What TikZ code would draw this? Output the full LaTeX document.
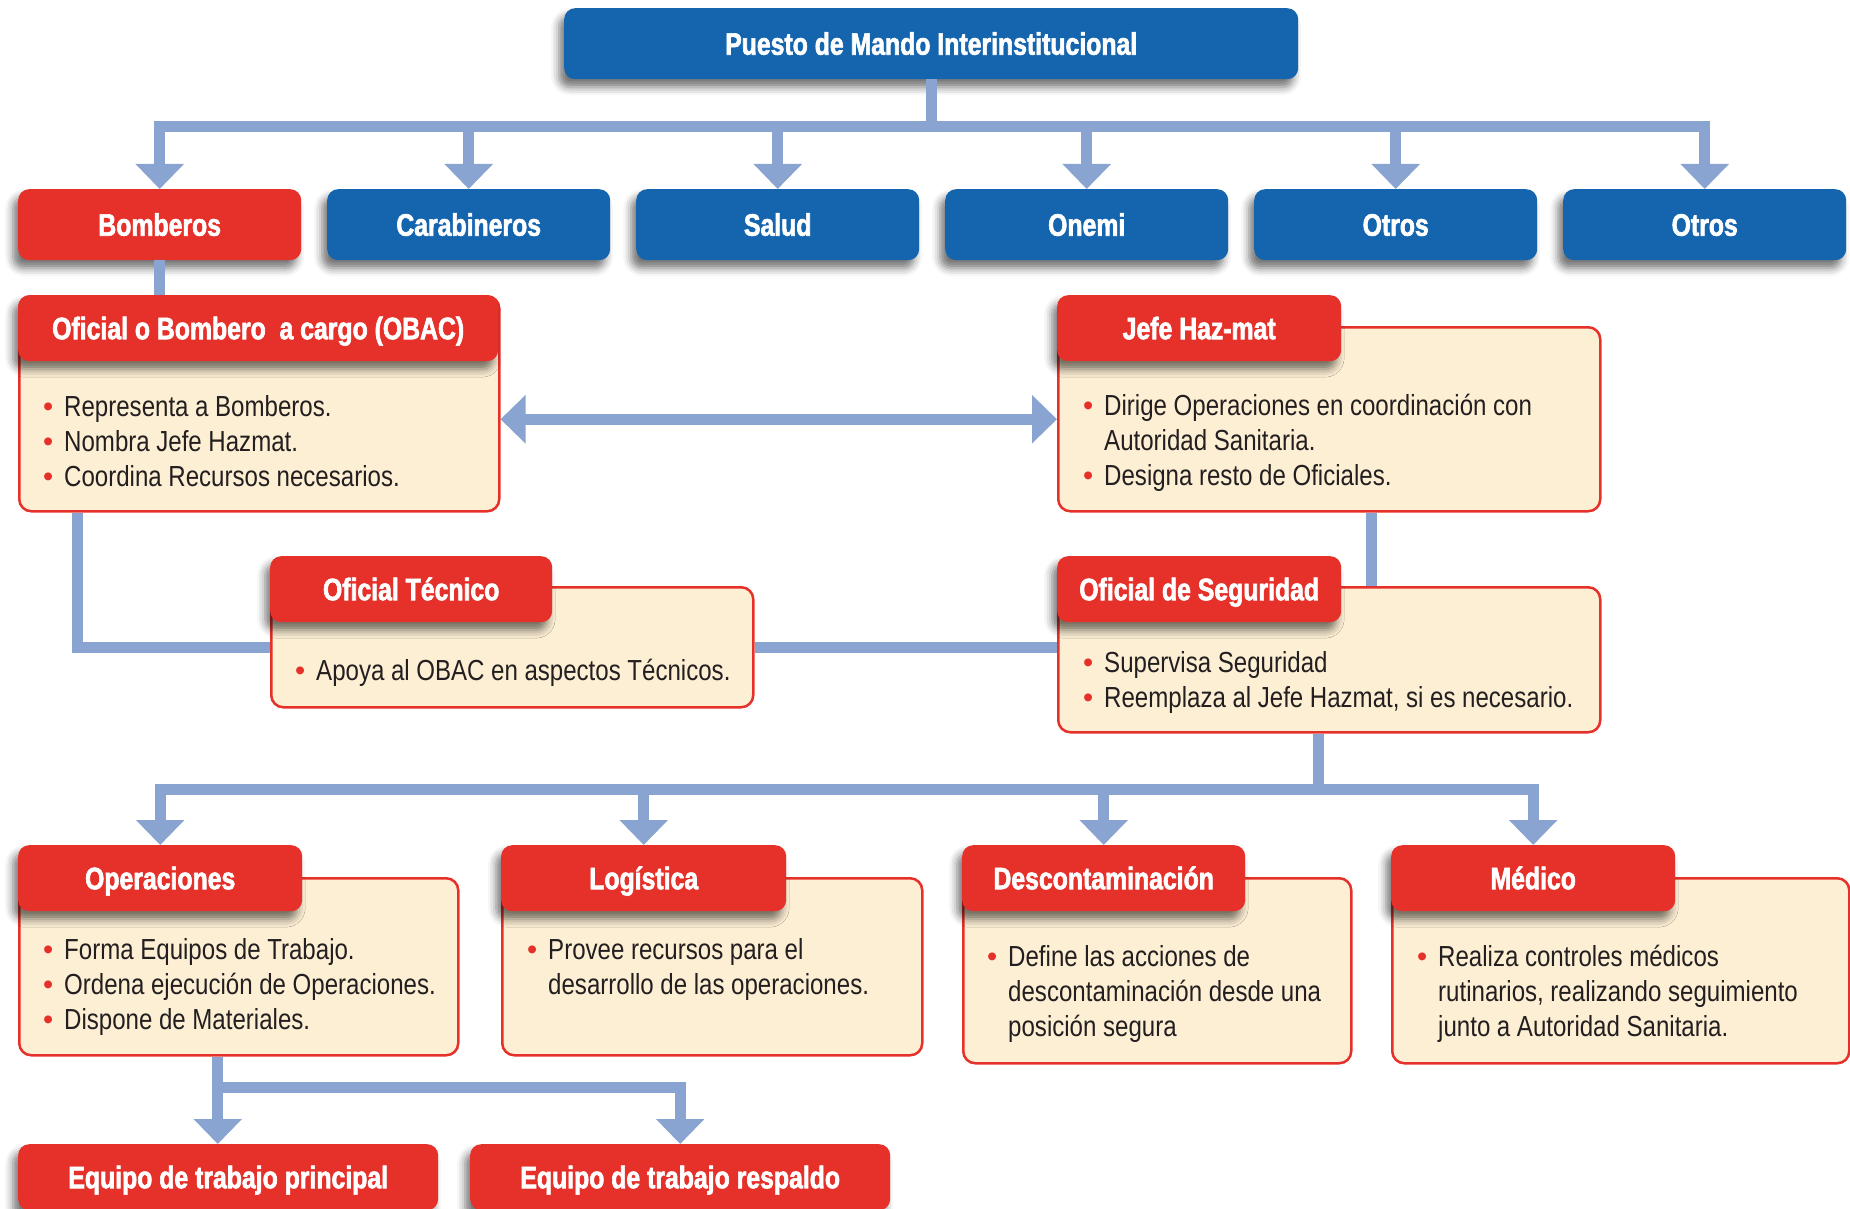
\documentclass[tikz,border=0pt]{standalone}
\usepackage{fontspec}
\usepackage{tikz}
\usetikzlibrary{arrows.meta, shadows.blur}

\newfontfamily\headfont{Liberation Sans}[FakeStretch=0.8, FakeBold=2]
\newfontfamily\bodyfont{Liberation Sans}[FakeStretch=0.83]
\newfontfamily\bulfont{Liberation Sans}
\definecolor{pmblue}{RGB}{21,101,174}
\definecolor{pmred}{RGB}{230,49,42}
\definecolor{pmcream}{RGB}{253,239,212}
\definecolor{pmline}{RGB}{138,164,209}
\definecolor{pmtext}{RGB}{35,31,32}
\newcommand\bul{\spaceskip=6.6pt plus 1pt\relax\makebox[21pt][l]{\bulfont\color{pmred}\textbullet}}
\newcommand\nobul{\spaceskip=6.6pt plus 1pt\relax\hspace*{21pt}}

\begin{document}
\begin{tikzpicture}[x=1pt, y=-1pt,
	hbox/.style={rounded corners=11pt, minimum height=66pt, inner sep=0pt, anchor=north west, text=white,
		text height=22pt, text depth=0pt, font=\headfont\bfseries\fontsize{31}{31}\selectfont,
		blur shadow={shadow xshift=-5pt, shadow yshift=-8pt, shadow blur radius=8pt, shadow opacity=55}},
	topbox/.style={hbox, minimum height=71pt, minimum width=283pt},
	bodybox/.style={draw=pmred, line width=2.5pt, fill=pmcream, rounded corners=12pt, inner sep=0pt, anchor=north west},
	items/.style={anchor=base west, inner sep=0pt, text width=540pt, text=pmtext,
		font=\bodyfont\fontsize{29}{35}\selectfont},
	conn/.style={draw=pmline, line width=11pt},
	arr/.style={conn, -{Triangle[width=47pt,length=25pt]}},
	dbl/.style={conn, {Triangle[width=47pt,length=25pt]}-{Triangle[width=47pt,length=25pt]}}]
	\useasboundingbox (0,0) rectangle (1850,1209);

	% mando y organismos
	\node[hbox, fill=pmblue, minimum height=71pt, minimum width=734pt] (pmi) at (564,8) {Puesto de Mando Interinstitucional};
	\node[topbox, fill=pmred] (bomb) at (18,189) {Bomberos};
	\foreach \n/\t [count=\i] in {cara/Carabineros,salud/Salud,onemi/Onemi,otr1/Otros,otr2/Otros}
		\node[topbox, fill=pmblue] (\n) at ({18+309*\i},189) {\t};

	% OBAC y Jefe Haz-mat
	\node[bodybox, minimum width=480pt, minimum height=215pt] (obacB) at (18,295) {};
	\node[hbox, fill=pmred, minimum width=480pt] (obacH) at (18,295) {Oficial o Bombero~ a cargo (OBAC)};
	\node[items] (obacT) at (43,416) {\bul Representa a Bomberos.\\ \bul Nombra Jefe Hazmat.\\ \bul Coordina Recursos necesarios.};

	\node[bodybox, minimum width=542pt, minimum height=184pt] (jefeB) at (1057,326) {};
	\node[hbox, fill=pmred, minimum width=284pt] (jefeH) at (1057,295) {Jefe Haz-mat};
	\node[items] (jefeT) at (1083,415) {\bul Dirige Operaciones en coordinación con\\ \nobul Autoridad Sanitaria.\\ \bul Designa resto de Oficiales.};

	% oficiales
	\node[bodybox, minimum width=482pt, minimum height=120pt] (tecB) at (270,586) {};
	\node[hbox, fill=pmred, minimum width=282pt] (tecH) at (270,556) {Oficial Técnico};
	\node[items] (tecT) at (295,680) {\bul Apoya al OBAC en aspectos Técnicos.};

	\node[bodybox, minimum width=542pt, minimum height=145pt] (segB) at (1057,586) {};
	\node[hbox, fill=pmred, minimum width=284pt] (segH) at (1057,556) {Oficial de Seguridad};
	\node[items] (segT) at (1083,672) {\bul Supervisa Seguridad\\ \bul Reemplaza al Jefe Hazmat, si es necesario.};

	% secciones
	\node[bodybox, minimum width=439pt, minimum height=177pt] (opB) at (18,877) {};
	\node[hbox, fill=pmred, minimum width=284pt] (opH) at (18,845) {Operaciones};
	\node[items] (opT) at (43,959) {\bul Forma Equipos de Trabajo.\\ \bul Ordena ejecución de Operaciones.\\ \bul Dispone de Materiales.};

	\node[bodybox, minimum width=420pt, minimum height=177pt] (logB) at (501,877) {};
	\node[hbox, fill=pmred, minimum width=285pt] (logH) at (501,845) {Logística};
	\node[items] (logT) at (527,959) {\bul Provee recursos para el\\ \nobul desarrollo de las operaciones.};

	\node[bodybox, minimum width=388pt, minimum height=185pt] (descB) at (962,877) {};
	\node[hbox, fill=pmred, minimum width=283pt] (descH) at (962,845) {Descontaminación};
	\node[items] (descT) at (987,966) {\bul Define las acciones de\\ \nobul descontaminación desde una\\ \nobul posición segura};

	\node[bodybox, minimum width=457pt, minimum height=185pt] (medB) at (1391,877) {};
	\node[hbox, fill=pmred, minimum width=284pt] (medH) at (1391,845) {Médico};
	\node[items] (medT) at (1417,966) {\bul Realiza controles médicos\\ \nobul rutinarios, realizando seguimiento\\ \nobul junto a Autoridad Sanitaria.};

	\node[hbox, fill=pmred, minimum width=420pt] (eqP) at (18,1144) {Equipo de trabajo principal};
	\node[hbox, fill=pmred, minimum width=420pt] (eqR) at (470,1144) {Equipo de trabajo respaldo};

	% conectores
	\coordinate (bus1) at ([yshift=-47pt]pmi.south);
	\foreach \n in {bomb,cara,salud,onemi,otr1,otr2}
		\draw[arr] (pmi.south) -- (bus1) -| (\n.north);
	\draw[conn] (bomb.south) -- (bomb.south |- obacH.north);
	\draw[dbl] (obacB.east |- jefeB.west) -- (jefeB.west);
	\coordinate (obacout) at ([xshift=-182pt]obacB.south);
	\draw[conn] (obacout) |- (tecB.west);
	\draw[conn] (tecB.east) -- (tecB.east -| segB.west);
	\draw[conn] ([xshift=42pt]jefeB.south) -- ([xshift=42pt]jefeB.south |- segB.north);
	\coordinate (segout) at ([xshift=-11pt]segB.south);
	\coordinate (bus2) at ([yshift=-56pt]segout);
	\foreach \n in {opH,logH,descH,medH}
		\draw[arr] (segout) -- (bus2) -| (\n.north);
	\coordinate (opout) at ([xshift=-21pt]opB.south);
	\coordinate (bus3) at ([yshift=-31pt]opout);
	\draw[arr] (opout) -- (opout |- eqP.north);
	\draw[arr] (opout) -- (bus3) -| (eqR.north);
\end{tikzpicture}
\end{document}
